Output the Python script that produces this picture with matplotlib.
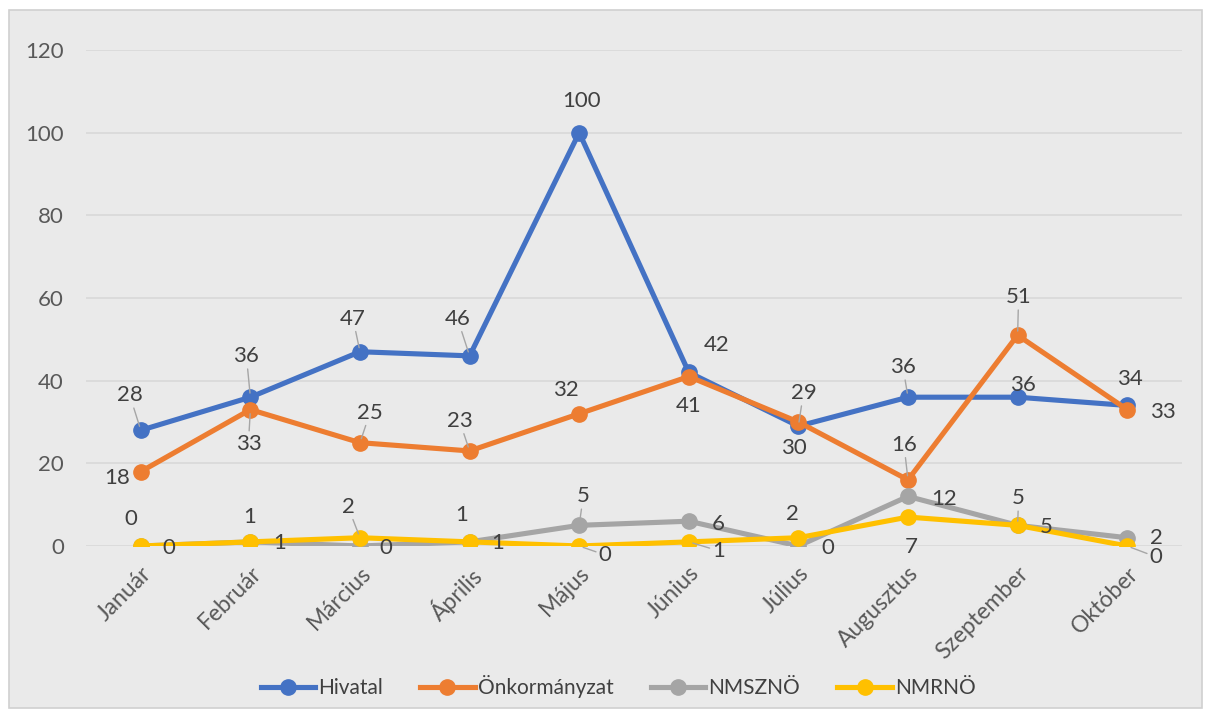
import matplotlib.pyplot as plt
from matplotlib.patches import Rectangle
from matplotlib.lines import Line2D

plt.rcParams['font.family'] = ['Lato', 'DejaVu Sans']

months = ["Január", "Február", "Március", "Április", "Május", "Június",
          "Július", "Augusztus", "Szeptember", "Október"]

hivatal = [28, 36, 47, 46, 100, 42, 29, 36, 36, 34]
onkorm = [18, 33, 25, 23, 32, 41, 30, 16, 51, 33]
nmszno = [0, 1, 0, 1, 5, 6, 0, 12, 5, 2]
nmrno = [0, 1, 2, 1, 0, 1, 2, 7, 5, 0]

names = ["Hivatal", "Önkormányzat", "NMSZNÖ", "NMRNÖ"]
colors = ["#4472C4", "#ED7D31", "#A5A5A5", "#FFC000"]

# label offsets in pixels (dx right, dy down), copied off the excel layout
offs = [
    [(-11, -35), (-4, -41), (-7, -33), (-12, -37), (2, -32), (28, -27), (5, -33), (-5, -30), (5, -12), (3, -26)],
    [(-24, 6), (-2, 34), (10, -30), (-10, -30), (-13, -24), (0, 29), (-5, 26), (-4, -35), (1, -38), (36, 2)],
    [(28, 2), (29, 1), (26, 2), (28, 1), (4, -29), (29, 3), (29, 2), (36, 3), (29, 2), (29, 0)],
    [(-10, -27), (-1, -25), (-12, -31), (-8, -27), (26, 9), (30, 9), (-6, -24), (3, 30), (1, -27), (29, 11)],
]
leaders = [
    [1, 1, 1, 1, 0, 0, 1, 1, 0, 0],
    [0, 1, 1, 1, 0, 0, 0, 1, 1, 0],
    [0, 0, 0, 0, 1, 0, 0, 0, 0, 0],
    [0, 0, 1, 0, 1, 1, 0, 0, 1, 1],
]

W, H = 1212, 717
fig = plt.figure(figsize=(W / 100, H / 100), dpi=100, facecolor="white")
fig.patches.append(Rectangle((9 / W, 9 / H), (W - 19) / W, (H - 19) / H,
                             transform=fig.transFigure, facecolor="#eaeaea",
                             edgecolor="#d0d0d0", lw=1.2, zorder=-10))

ax = fig.add_axes([86 / W, 1 - 546 / H, (1182 - 86) / W, (546 - 50) / H])
ax.patch.set_alpha(0)
x = list(range(len(months)))
series = [hivatal, onkorm, nmszno, nmrno]

for i, (vals, c) in enumerate(zip(series, colors)):
    ax.plot(x, vals, color=c, lw=3.7, marker="o", ms=11, zorder=3 + i,
            solid_capstyle="round")
    for j, v in enumerate(vals):
        dx, dy = offs[i][j]
        ap = None
        if leaders[i][j]:
            ap = dict(arrowstyle="-", color="#a6a6a6", lw=1, shrinkA=0, shrinkB=3)
        ax.annotate(str(v), (j, v), xytext=(dx, -dy), textcoords="offset pixels",
                    ha="center", va="center", fontsize=16, color="#404040",
                    arrowprops=ap, zorder=10)

ax.set_xlim(-0.5, 9.5)
ax.set_ylim(0, 120)
ax.set_yticks(range(0, 121, 20))
ax.grid(axis="y", color="#d9d9d9", lw=1.2)
ax.set_axisbelow(True)
for s in ax.spines.values():
    s.set_visible(False)
ax.tick_params(length=0, labelsize=16, labelcolor="#595959")
ax.tick_params(axis="y", pad=16)
ax.set_xticks(x)
ax.set_xticklabels(months, rotation=45, ha="right", rotation_mode="anchor",
                   fontsize=16.5)
ax.tick_params(axis="x", pad=12)

handles = [Line2D([], [], color=c, lw=3.7, marker="o", ms=11) for c in colors]
fig.legend(handles, names, loc="center", bbox_to_anchor=(0.51, 1 - 687 / H),
           ncol=4, frameon=False, fontsize=15, labelcolor="#404040",
           handlelength=2.6, columnspacing=1.8, handletextpad=0.15)

plt.savefig("out.png", dpi=100)
